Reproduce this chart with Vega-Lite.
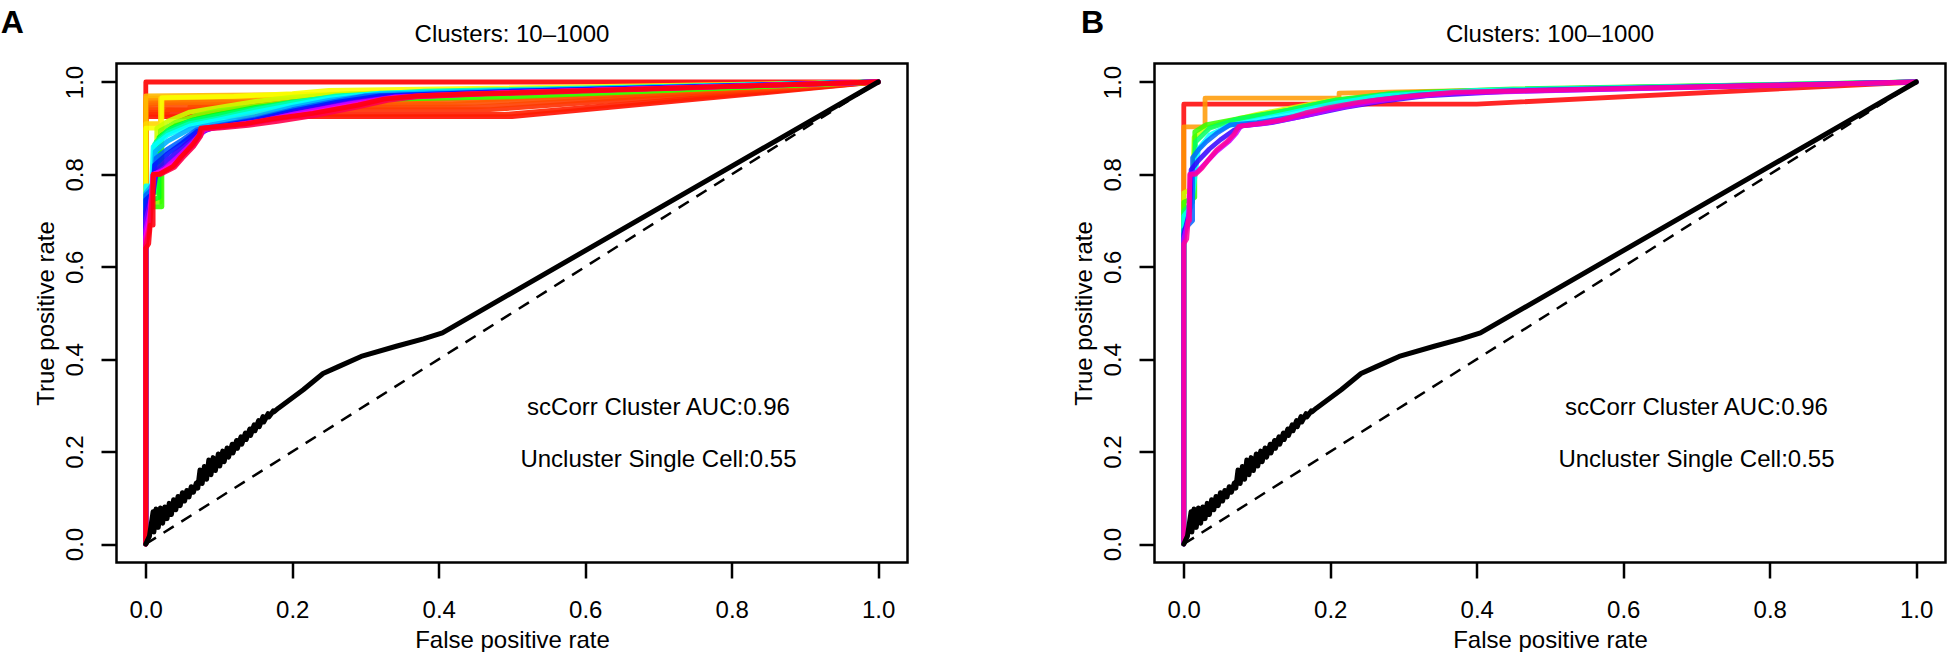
{
"$schema":"https://vega.github.io/schema/vega-lite/v6.json",
"autosize":{"type":"none"},
"padding":{"left":116.5,"top":63.5,"right":1834.5,"bottom":588.5},
"background":"white",
"datasets":{
"rocA":[
{"c":"A01","fpr":0,"tpr":0},{"c":"A01","fpr":0,"tpr":1},{"c":"A01","fpr":1,"tpr":1},
{"c":"A02","fpr":0,"tpr":0},{"c":"A02","fpr":0,"tpr":0.925},{"c":"A02","fpr":0.5,"tpr":0.925},{"c":"A02","fpr":1,"tpr":1},
{"c":"A03","fpr":0,"tpr":0},{"c":"A03","fpr":0,"tpr":0.93},{"c":"A03","fpr":0.49,"tpr":0.93},{"c":"A03","fpr":1,"tpr":1},
{"c":"A04","fpr":0,"tpr":0},{"c":"A04","fpr":0,"tpr":0.935},{"c":"A04","fpr":0.03,"tpr":0.935},{"c":"A04","fpr":0.03,"tpr":0.94},{"c":"A04","fpr":0.47,"tpr":0.94},{"c":"A04","fpr":1,"tpr":1},
{"c":"A05","fpr":0,"tpr":0},{"c":"A05","fpr":0,"tpr":0.94},{"c":"A05","fpr":0.06,"tpr":0.94},{"c":"A05","fpr":0.06,"tpr":0.946},{"c":"A05","fpr":0.45,"tpr":0.946},{"c":"A05","fpr":1,"tpr":1},
{"c":"A06","fpr":0,"tpr":0},{"c":"A06","fpr":0,"tpr":0.945},{"c":"A06","fpr":0.04,"tpr":0.95},{"c":"A06","fpr":0.42,"tpr":0.952},{"c":"A06","fpr":1,"tpr":1},
{"c":"A07","fpr":0,"tpr":0},{"c":"A07","fpr":0,"tpr":0.95},{"c":"A07","fpr":0.02,"tpr":0.955},{"c":"A07","fpr":0.4,"tpr":0.957},{"c":"A07","fpr":1,"tpr":1},
{"c":"A08","fpr":0,"tpr":0},{"c":"A08","fpr":0,"tpr":0.955},{"c":"A08","fpr":0.36,"tpr":0.961},{"c":"A08","fpr":1,"tpr":1},
{"c":"A09","fpr":0,"tpr":0},{"c":"A09","fpr":0,"tpr":0.96},{"c":"A09","fpr":0.32,"tpr":0.965},{"c":"A09","fpr":1,"tpr":1},
{"c":"A10","fpr":0,"tpr":0},{"c":"A10","fpr":0,"tpr":0.965},{"c":"A10","fpr":0.28,"tpr":0.969},{"c":"A10","fpr":1,"tpr":1},
{"c":"A11","fpr":0,"tpr":0},{"c":"A11","fpr":0,"tpr":0.97},{"c":"A11","fpr":0.25,"tpr":0.973},{"c":"A11","fpr":1,"tpr":1},
{"c":"A12","fpr":0,"tpr":0},{"c":"A12","fpr":0,"tpr":0.91},{"c":"A12","fpr":0.02,"tpr":0.91},{"c":"A12","fpr":0.02,"tpr":0.965},{"c":"A12","fpr":0.2,"tpr":0.972},{"c":"A12","fpr":1,"tpr":1},
{"c":"A13","fpr":0,"tpr":0},{"c":"A13","fpr":0,"tpr":0.9},{"c":"A13","fpr":0.022,"tpr":0.9},{"c":"A13","fpr":0.022,"tpr":0.966},{"c":"A13","fpr":0.12,"tpr":0.969},{"c":"A13","fpr":0.2,"tpr":0.975},{"c":"A13","fpr":0.25,"tpr":0.982},{"c":"A13","fpr":0.4,"tpr":0.985},{"c":"A13","fpr":1,"tpr":1},
{"c":"A14","fpr":0,"tpr":0},{"c":"A14","fpr":0,"tpr":0.76},{"c":"A14","fpr":0.015,"tpr":0.76},{"c":"A14","fpr":0.015,"tpr":0.9},{"c":"A14","fpr":0.03,"tpr":0.915},{"c":"A14","fpr":0.06,"tpr":0.935},{"c":"A14","fpr":0.1,"tpr":0.945},{"c":"A14","fpr":0.15,"tpr":0.958},{"c":"A14","fpr":0.2,"tpr":0.967},{"c":"A14","fpr":0.28,"tpr":0.975},{"c":"A14","fpr":0.45,"tpr":0.98},{"c":"A14","fpr":1,"tpr":1},
{"c":"A15","fpr":0,"tpr":0},{"c":"A15","fpr":0,"tpr":0.74},{"c":"A15","fpr":0.02,"tpr":0.74},{"c":"A15","fpr":0.02,"tpr":0.895},{"c":"A15","fpr":0.04,"tpr":0.912},{"c":"A15","fpr":0.07,"tpr":0.928},{"c":"A15","fpr":0.1,"tpr":0.938},{"c":"A15","fpr":0.15,"tpr":0.948},{"c":"A15","fpr":0.2,"tpr":0.957},{"c":"A15","fpr":0.3,"tpr":0.965},{"c":"A15","fpr":0.5,"tpr":0.97},{"c":"A15","fpr":1,"tpr":1},
{"c":"A16","fpr":0,"tpr":0},{"c":"A16","fpr":0,"tpr":0.73},{"c":"A16","fpr":0.022,"tpr":0.73},{"c":"A16","fpr":0.022,"tpr":0.885},{"c":"A16","fpr":0.04,"tpr":0.905},{"c":"A16","fpr":0.07,"tpr":0.92},{"c":"A16","fpr":0.1,"tpr":0.93},{"c":"A16","fpr":0.15,"tpr":0.942},{"c":"A16","fpr":0.2,"tpr":0.952},{"c":"A16","fpr":0.3,"tpr":0.962},{"c":"A16","fpr":0.5,"tpr":0.968},{"c":"A16","fpr":1,"tpr":1},
{"c":"A17","fpr":0,"tpr":0},{"c":"A17","fpr":0,"tpr":0.74},{"c":"A17","fpr":0.018,"tpr":0.75},{"c":"A17","fpr":0.018,"tpr":0.88},{"c":"A17","fpr":0.035,"tpr":0.9},{"c":"A17","fpr":0.065,"tpr":0.918},{"c":"A17","fpr":0.1,"tpr":0.93},{"c":"A17","fpr":0.15,"tpr":0.945},{"c":"A17","fpr":0.2,"tpr":0.955},{"c":"A17","fpr":0.28,"tpr":0.968},{"c":"A17","fpr":0.45,"tpr":0.975},{"c":"A17","fpr":1,"tpr":1},
{"c":"A18","fpr":0,"tpr":0},{"c":"A18","fpr":0,"tpr":0.745},{"c":"A18","fpr":0.012,"tpr":0.76},{"c":"A18","fpr":0.014,"tpr":0.87},{"c":"A18","fpr":0.03,"tpr":0.895},{"c":"A18","fpr":0.06,"tpr":0.915},{"c":"A18","fpr":0.1,"tpr":0.928},{"c":"A18","fpr":0.15,"tpr":0.943},{"c":"A18","fpr":0.2,"tpr":0.957},{"c":"A18","fpr":0.27,"tpr":0.97},{"c":"A18","fpr":0.4,"tpr":0.978},{"c":"A18","fpr":1,"tpr":1},
{"c":"A19","fpr":0,"tpr":0},{"c":"A19","fpr":0,"tpr":0.75},{"c":"A19","fpr":0.01,"tpr":0.765},{"c":"A19","fpr":0.012,"tpr":0.865},{"c":"A19","fpr":0.03,"tpr":0.89},{"c":"A19","fpr":0.06,"tpr":0.91},{"c":"A19","fpr":0.1,"tpr":0.922},{"c":"A19","fpr":0.15,"tpr":0.94},{"c":"A19","fpr":0.2,"tpr":0.955},{"c":"A19","fpr":0.26,"tpr":0.97},{"c":"A19","fpr":0.38,"tpr":0.98},{"c":"A19","fpr":1,"tpr":1},
{"c":"A20","fpr":0,"tpr":0},{"c":"A20","fpr":0,"tpr":0.775},{"c":"A20","fpr":0.008,"tpr":0.775},{"c":"A20","fpr":0.01,"tpr":0.86},{"c":"A20","fpr":0.03,"tpr":0.885},{"c":"A20","fpr":0.06,"tpr":0.905},{"c":"A20","fpr":0.1,"tpr":0.918},{"c":"A20","fpr":0.15,"tpr":0.935},{"c":"A20","fpr":0.2,"tpr":0.95},{"c":"A20","fpr":0.25,"tpr":0.965},{"c":"A20","fpr":0.32,"tpr":0.976},{"c":"A20","fpr":0.5,"tpr":0.982},{"c":"A20","fpr":1,"tpr":1},
{"c":"A21","fpr":0,"tpr":0},{"c":"A21","fpr":0,"tpr":0.76},{"c":"A21","fpr":0.01,"tpr":0.78},{"c":"A21","fpr":0.013,"tpr":0.85},{"c":"A21","fpr":0.03,"tpr":0.872},{"c":"A21","fpr":0.06,"tpr":0.898},{"c":"A21","fpr":0.09,"tpr":0.908},{"c":"A21","fpr":0.15,"tpr":0.925},{"c":"A21","fpr":0.2,"tpr":0.945},{"c":"A21","fpr":0.25,"tpr":0.96},{"c":"A21","fpr":0.32,"tpr":0.974},{"c":"A21","fpr":0.5,"tpr":0.982},{"c":"A21","fpr":1,"tpr":1},
{"c":"A22","fpr":0,"tpr":0},{"c":"A22","fpr":0,"tpr":0.755},{"c":"A22","fpr":0.01,"tpr":0.77},{"c":"A22","fpr":0.014,"tpr":0.835},{"c":"A22","fpr":0.03,"tpr":0.855},{"c":"A22","fpr":0.05,"tpr":0.875},{"c":"A22","fpr":0.07,"tpr":0.897},{"c":"A22","fpr":0.1,"tpr":0.906},{"c":"A22","fpr":0.15,"tpr":0.92},{"c":"A22","fpr":0.2,"tpr":0.94},{"c":"A22","fpr":0.25,"tpr":0.956},{"c":"A22","fpr":0.3,"tpr":0.97},{"c":"A22","fpr":0.5,"tpr":0.98},{"c":"A22","fpr":1,"tpr":1},
{"c":"A23","fpr":0,"tpr":0},{"c":"A23","fpr":0,"tpr":0.745},{"c":"A23","fpr":0.01,"tpr":0.76},{"c":"A23","fpr":0.012,"tpr":0.82},{"c":"A23","fpr":0.03,"tpr":0.845},{"c":"A23","fpr":0.05,"tpr":0.868},{"c":"A23","fpr":0.07,"tpr":0.893},{"c":"A23","fpr":0.1,"tpr":0.904},{"c":"A23","fpr":0.15,"tpr":0.918},{"c":"A23","fpr":0.2,"tpr":0.937},{"c":"A23","fpr":0.26,"tpr":0.956},{"c":"A23","fpr":0.32,"tpr":0.97},{"c":"A23","fpr":0.5,"tpr":0.98},{"c":"A23","fpr":1,"tpr":1},
{"c":"A24","fpr":0,"tpr":0},{"c":"A24","fpr":0,"tpr":0.72},{"c":"A24","fpr":0.01,"tpr":0.76},{"c":"A24","fpr":0.015,"tpr":0.81},{"c":"A24","fpr":0.03,"tpr":0.832},{"c":"A24","fpr":0.05,"tpr":0.858},{"c":"A24","fpr":0.07,"tpr":0.888},{"c":"A24","fpr":0.09,"tpr":0.9},{"c":"A24","fpr":0.15,"tpr":0.915},{"c":"A24","fpr":0.2,"tpr":0.934},{"c":"A24","fpr":0.27,"tpr":0.955},{"c":"A24","fpr":0.33,"tpr":0.968},{"c":"A24","fpr":0.5,"tpr":0.978},{"c":"A24","fpr":1,"tpr":1},
{"c":"A25","fpr":0,"tpr":0},{"c":"A25","fpr":0,"tpr":0.7},{"c":"A25","fpr":0.008,"tpr":0.75},{"c":"A25","fpr":0.012,"tpr":0.8},{"c":"A25","fpr":0.03,"tpr":0.82},{"c":"A25","fpr":0.05,"tpr":0.848},{"c":"A25","fpr":0.07,"tpr":0.88},{"c":"A25","fpr":0.085,"tpr":0.9},{"c":"A25","fpr":0.14,"tpr":0.91},{"c":"A25","fpr":0.2,"tpr":0.93},{"c":"A25","fpr":0.28,"tpr":0.955},{"c":"A25","fpr":0.34,"tpr":0.968},{"c":"A25","fpr":0.5,"tpr":0.978},{"c":"A25","fpr":1,"tpr":1},
{"c":"A26","fpr":0,"tpr":0},{"c":"A26","fpr":0,"tpr":0.68},{"c":"A26","fpr":0.006,"tpr":0.72},{"c":"A26","fpr":0.01,"tpr":0.8},{"c":"A26","fpr":0.025,"tpr":0.81},{"c":"A26","fpr":0.045,"tpr":0.84},{"c":"A26","fpr":0.065,"tpr":0.87},{"c":"A26","fpr":0.078,"tpr":0.895},{"c":"A26","fpr":0.1,"tpr":0.902},{"c":"A26","fpr":0.15,"tpr":0.912},{"c":"A26","fpr":0.2,"tpr":0.93},{"c":"A26","fpr":0.28,"tpr":0.953},{"c":"A26","fpr":0.34,"tpr":0.967},{"c":"A26","fpr":0.5,"tpr":0.977},{"c":"A26","fpr":1,"tpr":1},
{"c":"A27","fpr":0,"tpr":0},{"c":"A27","fpr":0,"tpr":0.665},{"c":"A27","fpr":0.005,"tpr":0.7},{"c":"A27","fpr":0.01,"tpr":0.8},{"c":"A27","fpr":0.02,"tpr":0.805},{"c":"A27","fpr":0.04,"tpr":0.825},{"c":"A27","fpr":0.06,"tpr":0.858},{"c":"A27","fpr":0.075,"tpr":0.885},{"c":"A27","fpr":0.08,"tpr":0.9},{"c":"A27","fpr":0.12,"tpr":0.907},{"c":"A27","fpr":0.17,"tpr":0.918},{"c":"A27","fpr":0.22,"tpr":0.932},{"c":"A27","fpr":0.29,"tpr":0.952},{"c":"A27","fpr":0.34,"tpr":0.966},{"c":"A27","fpr":0.5,"tpr":0.977},{"c":"A27","fpr":1,"tpr":1},
{"c":"A28","fpr":0,"tpr":0},{"c":"A28","fpr":0,"tpr":0.655},{"c":"A28","fpr":0.005,"tpr":0.69},{"c":"A28","fpr":0.01,"tpr":0.8},{"c":"A28","fpr":0.02,"tpr":0.802},{"c":"A28","fpr":0.04,"tpr":0.82},{"c":"A28","fpr":0.05,"tpr":0.84},{"c":"A28","fpr":0.066,"tpr":0.865},{"c":"A28","fpr":0.076,"tpr":0.89},{"c":"A28","fpr":0.078,"tpr":0.9},{"c":"A28","fpr":0.1,"tpr":0.903},{"c":"A28","fpr":0.14,"tpr":0.91},{"c":"A28","fpr":0.18,"tpr":0.92},{"c":"A28","fpr":0.23,"tpr":0.932},{"c":"A28","fpr":0.29,"tpr":0.951},{"c":"A28","fpr":0.33,"tpr":0.964},{"c":"A28","fpr":0.38,"tpr":0.971},{"c":"A28","fpr":0.5,"tpr":0.977},{"c":"A28","fpr":1,"tpr":1},
{"c":"A29","fpr":0,"tpr":0},{"c":"A29","fpr":0,"tpr":0.645},{"c":"A29","fpr":0.005,"tpr":0.68},{"c":"A29","fpr":0.011,"tpr":0.8},{"c":"A29","fpr":0.02,"tpr":0.8},{"c":"A29","fpr":0.039,"tpr":0.815},{"c":"A29","fpr":0.05,"tpr":0.835},{"c":"A29","fpr":0.066,"tpr":0.862},{"c":"A29","fpr":0.075,"tpr":0.883},{"c":"A29","fpr":0.078,"tpr":0.898},{"c":"A29","fpr":0.1,"tpr":0.9},{"c":"A29","fpr":0.14,"tpr":0.906},{"c":"A29","fpr":0.18,"tpr":0.915},{"c":"A29","fpr":0.23,"tpr":0.927},{"c":"A29","fpr":0.29,"tpr":0.946},{"c":"A29","fpr":0.33,"tpr":0.96},{"c":"A29","fpr":0.37,"tpr":0.968},{"c":"A29","fpr":0.45,"tpr":0.973},{"c":"A29","fpr":0.6,"tpr":0.98},{"c":"A29","fpr":1,"tpr":1},
{"c":"A30","fpr":0,"tpr":0},{"c":"A30","fpr":0,"tpr":0.64},{"c":"A30","fpr":0.004,"tpr":0.65},{"c":"A30","fpr":0.006,"tpr":0.69},{"c":"A30","fpr":0.01,"tpr":0.69},{"c":"A30","fpr":0.01,"tpr":0.8},{"c":"A30","fpr":0.018,"tpr":0.8},{"c":"A30","fpr":0.037,"tpr":0.817},{"c":"A30","fpr":0.048,"tpr":0.838},{"c":"A30","fpr":0.064,"tpr":0.865},{"c":"A30","fpr":0.073,"tpr":0.885},{"c":"A30","fpr":0.075,"tpr":0.9},{"c":"A30","fpr":0.1,"tpr":0.904},{"c":"A30","fpr":0.137,"tpr":0.91},{"c":"A30","fpr":0.173,"tpr":0.92},{"c":"A30","fpr":0.228,"tpr":0.932},{"c":"A30","fpr":0.29,"tpr":0.95},{"c":"A30","fpr":0.325,"tpr":0.963},{"c":"A30","fpr":0.37,"tpr":0.97},{"c":"A30","fpr":0.44,"tpr":0.974},{"c":"A30","fpr":0.55,"tpr":0.979},{"c":"A30","fpr":1,"tpr":1}
],
"rocB":[
{"c":"B01","fpr":0,"tpr":0},{"c":"B01","fpr":0,"tpr":0.952},{"c":"B01","fpr":0.4,"tpr":0.952},{"c":"B01","fpr":1,"tpr":1},
{"c":"B02","fpr":0,"tpr":0},{"c":"B02","fpr":0,"tpr":0.903},{"c":"B02","fpr":0.029,"tpr":0.903},{"c":"B02","fpr":0.029,"tpr":0.965},{"c":"B02","fpr":0.212,"tpr":0.965},{"c":"B02","fpr":0.212,"tpr":0.976},{"c":"B02","fpr":0.5,"tpr":0.985},{"c":"B02","fpr":1,"tpr":1},
{"c":"B03","fpr":0,"tpr":0},{"c":"B03","fpr":0,"tpr":0.76},{"c":"B03","fpr":0.012,"tpr":0.77},{"c":"B03","fpr":0.014,"tpr":0.88},{"c":"B03","fpr":0.03,"tpr":0.9},{"c":"B03","fpr":0.06,"tpr":0.915},{"c":"B03","fpr":0.1,"tpr":0.93},{"c":"B03","fpr":0.15,"tpr":0.945},{"c":"B03","fpr":0.2,"tpr":0.96},{"c":"B03","fpr":0.28,"tpr":0.972},{"c":"B03","fpr":0.4,"tpr":0.98},{"c":"B03","fpr":1,"tpr":1},
{"c":"B04","fpr":0,"tpr":0},{"c":"B04","fpr":0,"tpr":0.74},{"c":"B04","fpr":0.015,"tpr":0.75},{"c":"B04","fpr":0.015,"tpr":0.892},{"c":"B04","fpr":0.03,"tpr":0.907},{"c":"B04","fpr":0.075,"tpr":0.921},{"c":"B04","fpr":0.143,"tpr":0.939},{"c":"B04","fpr":0.207,"tpr":0.961},{"c":"B04","fpr":0.288,"tpr":0.976},{"c":"B04","fpr":0.45,"tpr":0.985},{"c":"B04","fpr":1,"tpr":1},
{"c":"B05","fpr":0,"tpr":0},{"c":"B05","fpr":0,"tpr":0.72},{"c":"B05","fpr":0.012,"tpr":0.74},{"c":"B05","fpr":0.016,"tpr":0.87},{"c":"B05","fpr":0.035,"tpr":0.9},{"c":"B05","fpr":0.07,"tpr":0.918},{"c":"B05","fpr":0.13,"tpr":0.935},{"c":"B05","fpr":0.2,"tpr":0.958},{"c":"B05","fpr":0.28,"tpr":0.974},{"c":"B05","fpr":0.45,"tpr":0.984},{"c":"B05","fpr":1,"tpr":1},
{"c":"B06","fpr":0,"tpr":0},{"c":"B06","fpr":0,"tpr":0.71},{"c":"B06","fpr":0.01,"tpr":0.73},{"c":"B06","fpr":0.02,"tpr":0.855},{"c":"B06","fpr":0.035,"tpr":0.885},{"c":"B06","fpr":0.06,"tpr":0.905},{"c":"B06","fpr":0.1,"tpr":0.918},{"c":"B06","fpr":0.15,"tpr":0.935},{"c":"B06","fpr":0.21,"tpr":0.955},{"c":"B06","fpr":0.27,"tpr":0.97},{"c":"B06","fpr":0.4,"tpr":0.982},{"c":"B06","fpr":1,"tpr":1},
{"c":"B07","fpr":0,"tpr":0},{"c":"B07","fpr":0,"tpr":0.68},{"c":"B07","fpr":0.012,"tpr":0.7},{"c":"B07","fpr":0.012,"tpr":0.836},{"c":"B07","fpr":0.02,"tpr":0.853},{"c":"B07","fpr":0.031,"tpr":0.871},{"c":"B07","fpr":0.045,"tpr":0.889},{"c":"B07","fpr":0.063,"tpr":0.907},{"c":"B07","fpr":0.1,"tpr":0.912},{"c":"B07","fpr":0.15,"tpr":0.925},{"c":"B07","fpr":0.2,"tpr":0.942},{"c":"B07","fpr":0.25,"tpr":0.958},{"c":"B07","fpr":0.32,"tpr":0.972},{"c":"B07","fpr":0.45,"tpr":0.982},{"c":"B07","fpr":1,"tpr":1},
{"c":"B08","fpr":0,"tpr":0},{"c":"B08","fpr":0,"tpr":0.67},{"c":"B08","fpr":0.008,"tpr":0.72},{"c":"B08","fpr":0.01,"tpr":0.81},{"c":"B08","fpr":0.02,"tpr":0.83},{"c":"B08","fpr":0.035,"tpr":0.855},{"c":"B08","fpr":0.05,"tpr":0.875},{"c":"B08","fpr":0.068,"tpr":0.895},{"c":"B08","fpr":0.08,"tpr":0.905},{"c":"B08","fpr":0.12,"tpr":0.912},{"c":"B08","fpr":0.17,"tpr":0.928},{"c":"B08","fpr":0.22,"tpr":0.945},{"c":"B08","fpr":0.27,"tpr":0.958},{"c":"B08","fpr":0.33,"tpr":0.97},{"c":"B08","fpr":0.45,"tpr":0.98},{"c":"B08","fpr":1,"tpr":1},
{"c":"B09","fpr":0,"tpr":0},{"c":"B09","fpr":0,"tpr":0.66},{"c":"B09","fpr":0.006,"tpr":0.7},{"c":"B09","fpr":0.009,"tpr":0.8},{"c":"B09","fpr":0.018,"tpr":0.805},{"c":"B09","fpr":0.03,"tpr":0.825},{"c":"B09","fpr":0.045,"tpr":0.85},{"c":"B09","fpr":0.062,"tpr":0.872},{"c":"B09","fpr":0.072,"tpr":0.89},{"c":"B09","fpr":0.078,"tpr":0.905},{"c":"B09","fpr":0.11,"tpr":0.91},{"c":"B09","fpr":0.16,"tpr":0.925},{"c":"B09","fpr":0.2,"tpr":0.94},{"c":"B09","fpr":0.25,"tpr":0.955},{"c":"B09","fpr":0.3,"tpr":0.966},{"c":"B09","fpr":0.37,"tpr":0.976},{"c":"B09","fpr":1,"tpr":1},
{"c":"B10","fpr":0,"tpr":0},{"c":"B10","fpr":0,"tpr":0.65},{"c":"B10","fpr":0.004,"tpr":0.66},{"c":"B10","fpr":0.006,"tpr":0.7},{"c":"B10","fpr":0.008,"tpr":0.7},{"c":"B10","fpr":0.008,"tpr":0.8},{"c":"B10","fpr":0.016,"tpr":0.8},{"c":"B10","fpr":0.025,"tpr":0.814},{"c":"B10","fpr":0.034,"tpr":0.832},{"c":"B10","fpr":0.045,"tpr":0.853},{"c":"B10","fpr":0.059,"tpr":0.871},{"c":"B10","fpr":0.068,"tpr":0.886},{"c":"B10","fpr":0.075,"tpr":0.904},{"c":"B10","fpr":0.107,"tpr":0.911},{"c":"B10","fpr":0.134,"tpr":0.918},{"c":"B10","fpr":0.166,"tpr":0.933},{"c":"B10","fpr":0.197,"tpr":0.944},{"c":"B10","fpr":0.234,"tpr":0.955},{"c":"B10","fpr":0.266,"tpr":0.962},{"c":"B10","fpr":0.311,"tpr":0.97},{"c":"B10","fpr":0.37,"tpr":0.978},{"c":"B10","fpr":1,"tpr":1}
],
"single":[
{"fpr":0,"tpr":0},{"fpr":0.005,"tpr":0.017},{"fpr":0.01,"tpr":0.07},{"fpr":0.011,"tpr":0.026},{"fpr":0.014,"tpr":0.076},{"fpr":0.017,"tpr":0.036},{"fpr":0.02,"tpr":0.078},{"fpr":0.023,"tpr":0.045},{"fpr":0.026,"tpr":0.08},{"fpr":0.029,"tpr":0.055},{"fpr":0.032,"tpr":0.088},{"fpr":0.035,"tpr":0.064},{"fpr":0.038,"tpr":0.096},{"fpr":0.041,"tpr":0.074},{"fpr":0.044,"tpr":0.103},{"fpr":0.047,"tpr":0.083},{"fpr":0.05,"tpr":0.111},{"fpr":0.053,"tpr":0.093},{"fpr":0.056,"tpr":0.116},{"fpr":0.059,"tpr":0.102},{"fpr":0.062,"tpr":0.124},{"fpr":0.065,"tpr":0.112},{"fpr":0.069,"tpr":0.132},{"fpr":0.071,"tpr":0.121},{"fpr":0.074,"tpr":0.16},{"fpr":0.077,"tpr":0.131},{"fpr":0.08,"tpr":0.168},{"fpr":0.083,"tpr":0.14},{"fpr":0.086,"tpr":0.182},{"fpr":0.089,"tpr":0.15},{"fpr":0.092,"tpr":0.187},{"fpr":0.095,"tpr":0.159},{"fpr":0.099,"tpr":0.195},{"fpr":0.101,"tpr":0.169},{"fpr":0.105,"tpr":0.201},{"fpr":0.107,"tpr":0.178},{"fpr":0.111,"tpr":0.208},{"fpr":0.113,"tpr":0.188},{"fpr":0.118,"tpr":0.216},{"fpr":0.119,"tpr":0.197},{"fpr":0.124,"tpr":0.224},{"fpr":0.125,"tpr":0.207},{"fpr":0.13,"tpr":0.232},{"fpr":0.131,"tpr":0.216},{"fpr":0.136,"tpr":0.24},{"fpr":0.137,"tpr":0.226},{"fpr":0.142,"tpr":0.249},{"fpr":0.143,"tpr":0.235},{"fpr":0.148,"tpr":0.258},{"fpr":0.149,"tpr":0.245},{"fpr":0.154,"tpr":0.267},{"fpr":0.155,"tpr":0.254},{"fpr":0.16,"tpr":0.276},{"fpr":0.161,"tpr":0.264},{"fpr":0.167,"tpr":0.282},{"fpr":0.168,"tpr":0.275},{"fpr":0.174,"tpr":0.288},{"fpr":0.175,"tpr":0.286},{"fpr":0.181,"tpr":0.294},{"fpr":0.215,"tpr":0.334},{"fpr":0.242,"tpr":0.369},{"fpr":0.263,"tpr":0.384},{"fpr":0.294,"tpr":0.406},{"fpr":0.342,"tpr":0.428},{"fpr":0.379,"tpr":0.444},{"fpr":0.405,"tpr":0.457},{"fpr":1,"tpr":1}
],
"diag":[{"fpr":0,"tpr":0},{"fpr":1,"tpr":1}]
},
"hconcat":[
{
"width":791,"height":499,
"layer":[
{"data":{"name":"rocA"},"mark":{"type":"line","strokeWidth":4.8,"opacity":0.9,"strokeCap":"round","strokeJoin":"round"},
"encoding":{
"x":{"field":"fpr","type":"quantitative","scale":{"domain":[-0.04,1.04],"nice":false,"zero":false},"axis":{"values":[0,0.2,0.4,0.6,0.8,1],"format":".1f","title":"False positive rate"}},
"y":{"field":"tpr","type":"quantitative","scale":{"domain":[-0.04,1.04],"nice":false,"zero":false},"axis":{"values":[0,0.2,0.4,0.6,0.8,1],"format":".1f","title":"True positive rate"}},
"color":{"field":"c","type":"nominal","legend":null,"scale":{"domain":["A01","A02","A03","A04","A05","A06","A07","A08","A09","A10","A11","A12","A13","A14","A15","A16","A17","A18","A19","A20","A21","A22","A23","A24","A25","A26","A27","A28","A29","A30","B01","B02","B03","B04","B05","B06","B07","B08","B09","B10"],"range":["#FF0000","#FF0F00","#FF1F00","#FF2E00","#FF3D00","#FF4D00","#FF5C00","#FF6B00","#FF7A00","#FF9900","#FFB800","#FFD600","#FAFF00","#CCFF00","#80FF00","#33FF00","#00FF1A","#00FF66","#00FFB3","#00FFFF","#00B3FF","#0066FF","#001AFF","#3300FF","#8000FF","#CC00FF","#FF00E6","#FF0099","#FF004D","#FF000F","#FF0000","#FF9900","#CCFF00","#33FF00","#00FF66","#00FFFF","#0066FF","#3300FF","#CC00FF","#FF0099"]}},
"order":{"value":null}}},
{"data":{"name":"single"},"mark":{"type":"line","color":"black","strokeWidth":5,"strokeCap":"round","strokeJoin":"round"},
"encoding":{"x":{"field":"fpr","type":"quantitative"},"y":{"field":"tpr","type":"quantitative"},"order":{"value":null}}},
{"data":{"name":"diag"},"mark":{"type":"line","color":"black","strokeWidth":2.5,"strokeDash":[12,9]},
"encoding":{"x":{"field":"fpr","type":"quantitative"},"y":{"field":"tpr","type":"quantitative"}}},
{"data":{"values":[{"label":"scCorr Cluster AUC:0.96"}]},"mark":{"type":"text","font":"Liberation Sans","fontSize":24,"align":"center","baseline":"middle","color":"black"},
"encoding":{"x":{"datum":0.7},"y":{"datum":0.294},"text":{"field":"label"}}},
{"data":{"values":[{"label":"Uncluster Single Cell:0.55"}]},"mark":{"type":"text","font":"Liberation Sans","fontSize":24,"align":"center","baseline":"middle","color":"black"},
"encoding":{"x":{"datum":0.7},"y":{"datum":0.181},"text":{"field":"label"}}},
{"data":{"values":[{"label":"Clusters: 10–1000"}]},"mark":{"type":"text","font":"Liberation Sans","fontSize":24,"align":"center","baseline":"alphabetic","color":"black"},
"encoding":{"x":{"datum":0.5},"y":{"datum":1.0865},"text":{"field":"label"}}},
{"data":{"values":[{"label":"A"}]},"mark":{"type":"text","font":"Liberation Sans","fontSize":32,"fontWeight":"bold","align":"left","baseline":"alphabetic","color":"black"},
"encoding":{"x":{"datum":-0.198},"y":{"datum":1.106},"text":{"field":"label"}}}
]
},
{
"width":791,"height":499,
"layer":[
{"data":{"name":"rocB"},"mark":{"type":"line","strokeWidth":4.8,"opacity":0.85,"strokeCap":"round","strokeJoin":"round"},
"encoding":{
"x":{"field":"fpr","type":"quantitative","scale":{"domain":[-0.04,1.04],"nice":false,"zero":false},"axis":{"values":[0,0.2,0.4,0.6,0.8,1],"format":".1f","title":"False positive rate"}},
"y":{"field":"tpr","type":"quantitative","scale":{"domain":[-0.04,1.04],"nice":false,"zero":false},"axis":{"values":[0,0.2,0.4,0.6,0.8,1],"format":".1f","title":"True positive rate"}},
"color":{"field":"c","type":"nominal","legend":null,"scale":{"domain":["A01","A02","A03","A04","A05","A06","A07","A08","A09","A10","A11","A12","A13","A14","A15","A16","A17","A18","A19","A20","A21","A22","A23","A24","A25","A26","A27","A28","A29","A30","B01","B02","B03","B04","B05","B06","B07","B08","B09","B10"],"range":["#FF0000","#FF0F00","#FF1F00","#FF2E00","#FF3D00","#FF4D00","#FF5C00","#FF6B00","#FF7A00","#FF9900","#FFB800","#FFD600","#FAFF00","#CCFF00","#80FF00","#33FF00","#00FF1A","#00FF66","#00FFB3","#00FFFF","#00B3FF","#0066FF","#001AFF","#3300FF","#8000FF","#CC00FF","#FF00E6","#FF0099","#FF004D","#FF000F","#FF0000","#FF9900","#CCFF00","#33FF00","#00FF66","#00FFFF","#0066FF","#3300FF","#CC00FF","#FF0099"]}},
"order":{"value":null}}},
{"data":{"name":"single"},"mark":{"type":"line","color":"black","strokeWidth":5,"strokeCap":"round","strokeJoin":"round"},
"encoding":{"x":{"field":"fpr","type":"quantitative"},"y":{"field":"tpr","type":"quantitative"},"order":{"value":null}}},
{"data":{"name":"diag"},"mark":{"type":"line","color":"black","strokeWidth":2.5,"strokeDash":[12,9]},
"encoding":{"x":{"field":"fpr","type":"quantitative"},"y":{"field":"tpr","type":"quantitative"}}},
{"data":{"values":[{"label":"scCorr Cluster AUC:0.96"}]},"mark":{"type":"text","font":"Liberation Sans","fontSize":24,"align":"center","baseline":"middle","color":"black"},
"encoding":{"x":{"datum":0.7},"y":{"datum":0.294},"text":{"field":"label"}}},
{"data":{"values":[{"label":"Uncluster Single Cell:0.55"}]},"mark":{"type":"text","font":"Liberation Sans","fontSize":24,"align":"center","baseline":"middle","color":"black"},
"encoding":{"x":{"datum":0.7},"y":{"datum":0.181},"text":{"field":"label"}}},
{"data":{"values":[{"label":"Clusters: 100–1000"}]},"mark":{"type":"text","font":"Liberation Sans","fontSize":24,"align":"center","baseline":"alphabetic","color":"black"},
"encoding":{"x":{"datum":0.5},"y":{"datum":1.0865},"text":{"field":"label"}}},
{"data":{"values":[{"label":"B"}]},"mark":{"type":"text","font":"Liberation Sans","fontSize":32,"fontWeight":"bold","align":"left","baseline":"alphabetic","color":"black"},
"encoding":{"x":{"datum":-0.1405},"y":{"datum":1.106},"text":{"field":"label"}}}
]
}
],
"bounds":"flush",
"spacing":247,
"config":{
"view":{"stroke":"black","strokeWidth":2.5},
"font":"Liberation Sans",
"axis":{"domain":false,"grid":false,"ticks":true,"tickColor":"black","tickWidth":2.5,"tickSize":15.5,"labelFont":"Liberation Sans","labelFontSize":24,"labelColor":"black","labelFlush":false,"labelOverlap":false,"titleFont":"Liberation Sans","titleFontSize":24,"titleFontWeight":"normal","titleColor":"black"},
"axisX":{"labelAngle":0,"labelAlign":"center","labelBaseline":"alphabetic","labelPadding":39,"titleBaseline":"alphabetic","titleAlign":"center","titleY":84.5},
"axisY":{"labelAngle":270,"labelAlign":"center","labelBaseline":"alphabetic","labelPadding":18.5,"titleAngle":270,"titleAlign":"center","titleBaseline":"alphabetic","titleX":-63}
}
}
